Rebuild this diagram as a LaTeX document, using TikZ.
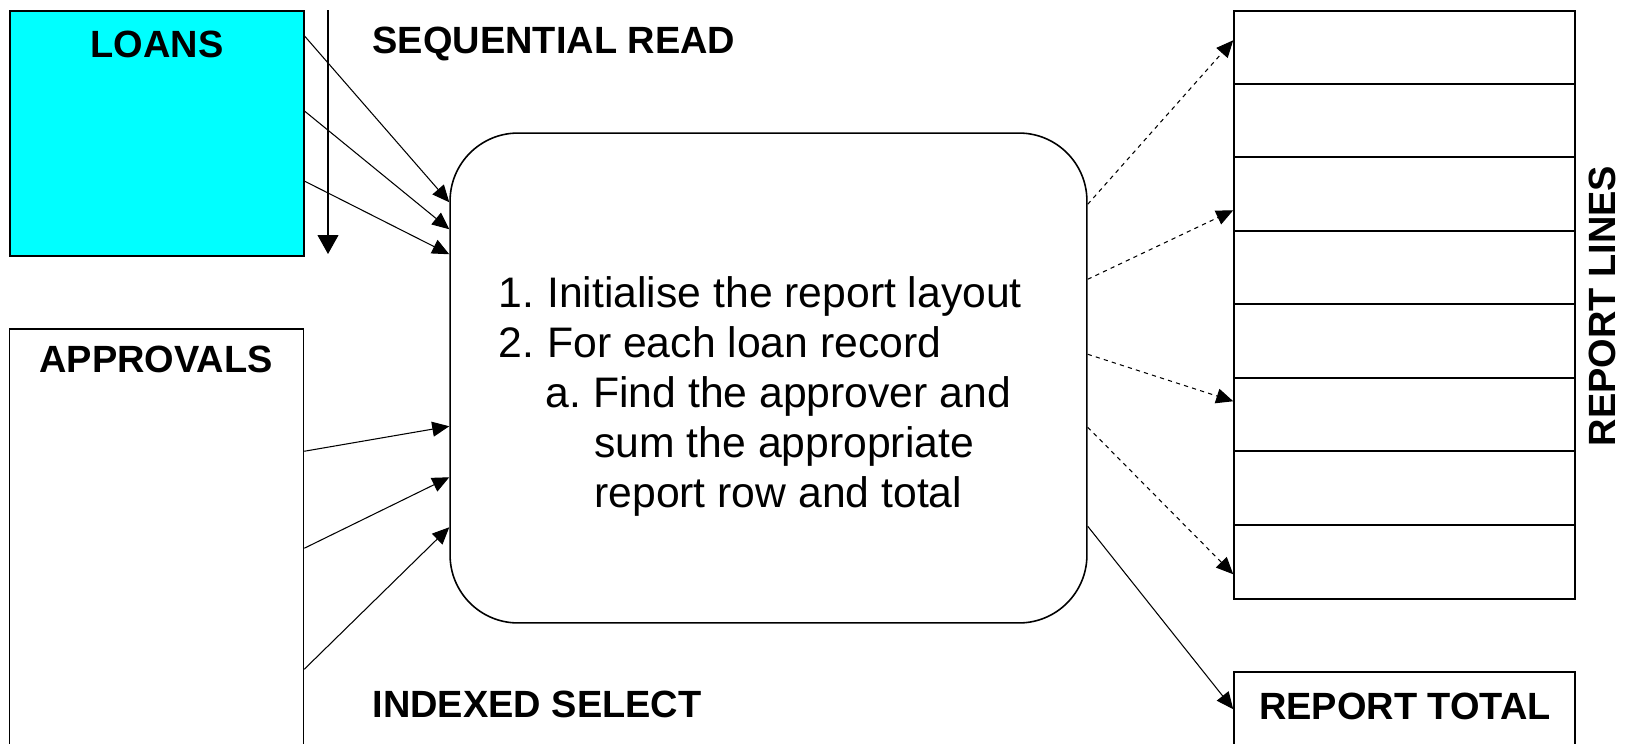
\documentclass[tikz,border=0pt]{standalone}
\usepackage{fontspec}
\setmainfont{Liberation Sans}
\usetikzlibrary{arrows.meta,calc}
\definecolor{loanfill}{RGB}{0,255,255}

\begin{document}
\begin{tikzpicture}[x=0.02cm,y=-0.02cm]

        \tikzstyle{arrow} = [line width=0.6pt,-{Triangle[length=0.34cm,width=0.3cm]}]
        \tikzstyle{feed} = [arrow, dash pattern=on 2.4pt off 2.4pt]
        \tikzset{store/.style = {rectangle, draw, line width=0.9pt, minimum width=5.88cm}, }
        \tikzset{process/.style = {rectangle, rounded corners=1.36cm, draw, line width=0.9pt, minimum width=12.74cm, minimum height=9.8cm}, }
        \tikzset{sheet/.style = {rectangle, draw, line width=0.9pt, minimum width=6.82cm}, }
        \tikzset{title/.style = {font=\fontsize{21.6pt}{26pt}\selectfont\bfseries, inner sep=0pt}, }

        \path[use as bounding box, clip] (0,0) rectangle (1627,744);

        \node[store, fill=loanfill, minimum height=4.9cm] (loans) at (157,133.5) {};
        \node[store, minimum height=9cm] (app) at (156.5,554) {};
        \node[process] (proc) at (768.5,378) {};
        \node[sheet, minimum height=11.76cm] (rlines) at (1404.5,305) {};
        \node[sheet, minimum height=2cm] (rtotal) at (1404.5,722) {};

        % rows of the report
        \foreach \r in {1,...,7}
          \draw[line width=0.9pt] ($(rlines.north west)+(0,\r*73.5)$) -- ($(rlines.north east)+(0,\r*73.5)$);

        \node[title] (loansTitle) at (157,44) {LOANS};
        \node[title] (seqTitle) at (554,44) {SEQUENTIAL READ};
        \node[title] (appTitle) at (156,359) {APPROVALS};
        \node[title] (idxTitle) at (537,704) {INDEXED SELECT};
        \node[title] (totalTitle) at (1405,706) {REPORT TOTAL};
        \node[title, rotate=90] (linesTitle) at (1602,306) {REPORT LINES};

        \node[font=\fontsize{24.3pt}{28.45pt}\selectfont, align=left, inner sep=0pt, anchor=west] (steps) at (498,396) {%
        \makebox[0.98cm][l]{1.}Initialise the report layout\\
        \makebox[0.98cm][l]{2.}For each loan record\\
        \hspace*{0.94cm}\makebox[0.96cm][l]{a.}Find the approver and\\
        \hspace*{1.92cm}sum the appropriate\\
        \hspace*{1.92cm}report row and total};

        \coordinate (seqStart) at (328,10);
        \coordinate (seqEnd) at (328,254);
        \draw[arrow, -{Triangle[length=0.38cm,width=0.42cm]}] (seqStart) -- (seqEnd);

        \foreach \s/\t in {26/70, 101/97, 171/122}
          \draw[arrow] ($(loans.north east)+(0,\s)$) -- ($(proc.north west)+(0,\t)$);
        \foreach \s/\t in {123/294, 220/345, 341/395}
          \draw[arrow] ($(app.north east)+(0,\s)$) -- ($(proc.north west)+(0,\t)$);
        \foreach \s/\t in {72/30, 147/200, 222/391, 295/564}
          \draw[feed] ($(proc.north east)+(0,\s)$) -- ($(rlines.north west)+(0,\t)$);
        \draw[arrow] ($(proc.north east)+(0,394)$) -- ($(rtotal.north west)+(0,38)$);

\end{tikzpicture}
\end{document}
